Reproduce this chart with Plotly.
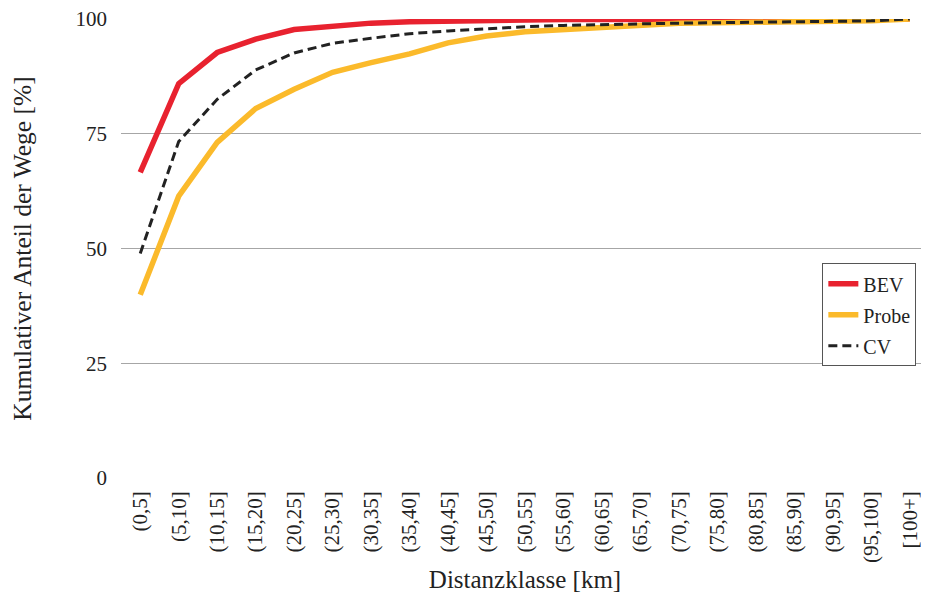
import plotly.graph_objects as go

categories = ["(0,5]", "(5,10]", "(10,15]", "(15,20]", "(20,25]", "(25,30]", "(30,35]",
              "(35,40]", "(40,45]", "(45,50]", "(50,55]", "(55,60]", "(60,65]", "(65,70]",
              "(70,75]", "(75,80]", "(80,85]", "(85,90]", "(90,95]", "(95,100]", "[100+]"]
bev = [66.6, 85.9, 92.7, 95.6, 97.7, 98.5, 99.1, 99.4, 99.6, 99.7, 99.8, 99.9, 99.9, 99.9,
       99.9, 99.9, 100.0, 100.0, 100.0, 100.0, 100.0]
probe = [39.9, 61.4, 73.1, 80.5, 84.7, 88.4, 90.5, 92.4, 94.8, 96.3, 97.2, 97.7, 98.3, 98.9,
         99.1, 99.2, 99.3, 99.4, 99.5, 99.6, 100.0]
cv = [48.9, 73.3, 82.5, 88.9, 92.6, 94.7, 95.8, 96.8, 97.4, 97.9, 98.3, 98.6, 98.8, 98.9,
      99.1, 99.2, 99.3, 99.4, 99.5, 99.6, 100.0]
y_ticks = [0, 25, 50, 75, 100]

font = "Liberation Serif"

fig = go.Figure()
fig.add_trace(go.Scatter(x=categories, y=bev, name="BEV", mode="lines", legendgroup="a",
                         line=dict(color="#E8222F", width=5.5)))
fig.add_trace(go.Scatter(x=categories, y=probe, name="Probe", mode="lines", legendgroup="b",
                         line=dict(color="#FBBA2B", width=5.5)))
fig.add_trace(go.Scatter(x=categories, y=cv, name="CV", mode="lines", legendgroup="c",
                         line=dict(color="#222222", width=3, dash="9px,5px")))

fig.update_layout(
    template="none",
    width=921, height=586,
    margin=dict(l=113, r=0, t=11, b=116),
    paper_bgcolor="white", plot_bgcolor="white",
    font=dict(family=font, size=20, color="#222222"),
    showlegend=True,
    legend=dict(x=0.868, y=0.468, xanchor="left", yanchor="top",
                bordercolor="#555555", borderwidth=1, bgcolor="white",
                font=dict(family=font, size=20, color="#222222"),
                tracegroupgap=2, traceorder="grouped"),
    xaxis=dict(type="category", range=[-0.5, 20.5], tickangle=-90, showgrid=False, showline=False,
               ticks="", ticklabelstandoff=8, tickfont=dict(family=font, size=21),
               title=dict(text="Distanzklasse [km]", font=dict(family=font, size=25), standoff=8)),
    yaxis=dict(range=[0, 100], tickvals=y_ticks, showgrid=True, gridcolor="#A6A6A6",
               gridwidth=1, zeroline=False, showline=False, ticks="", ticklabelstandoff=13,
               ticklabeloverflow="allow",
               tickfont=dict(family=font, size=21),
               title=dict(text="Kumulativer Anteil der Wege [%]", font=dict(family=font, size=25.5), standoff=58)),
)

fig.write_html("out.html")
